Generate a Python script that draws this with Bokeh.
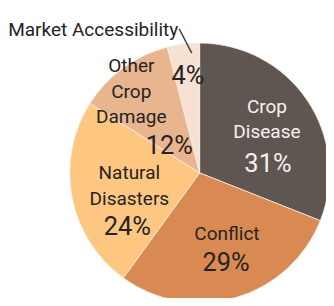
import math
from bokeh.plotting import figure
from bokeh.models import Range1d, ColumnDataSource
from bokeh.core.properties import value
from bokeh.embed import file_html
from bokeh.resources import INLINE

# ---- data ----
categories = ["Crop Disease", "Conflict", "Natural Disasters", "Other Crop Damage", "Market Accessibility"]
shares = [31, 29, 24, 12, 4]
label_lines = [["Crop", "Disease"], ["Conflict"], ["Natural", "Disasters"], ["Other", "Crop", "Damage"], []]
pct_labels = ["31%", "29%", "24%", "12%", "4%"]
colors = ["#5f5651", "#d98a52", "#fdc781", "#e8b58e", "#f6e1d2"]

# ---- layout: data space = reference picture pixels (334 x 306), y up ----
W, H = 326, 298
SX = W / 334.0
def Y(img_y):
    return 306 - img_y

p = figure(width=W, height=H, output_backend="svg", toolbar_location=None,
           x_range=Range1d(0, 334), y_range=Range1d(0, 306), min_border=0)
p.axis.visible = False
p.grid.visible = False
p.outline_line_color = None
p.background_fill_color = "white"

cx, cy, r = 204, Y(177), 133
total = sum(shares)
starts, ends = [], []
cum = 0.0
for s in shares:
    starts.append(math.pi / 2 - 2 * math.pi * cum / total)
    cum += s
    ends.append(math.pi / 2 - 2 * math.pi * cum / total)

src = ColumnDataSource(dict(cat=categories, start=starts, end=ends, color=colors))
p.wedge(x=cx, y=cy, radius=r, start_angle="start", end_angle="end", direction="clock",
        fill_color="color", line_color="#f4ece6", line_width=0.8, source=src)

FONT = value("Roboto")
name_size = "%.1fpx" % (19.5 * SX)
pct_size = "%.1fpx" % (26 * SX)
# label anchors: (center x, first baseline img y), pct (x, baseline)
name_pos = [(273, 109), (232, 239), (132, 177), (134, 67), None]
pct_pos = [(274, 167), (231, 269), (130, 232), (173, 148), (192, 77)]
txt_colors = ["#f4f2f0", "#262324", "#262324", "#262324", "#262324"]
line_h = 26

for i in range(len(categories)):
    if name_pos[i] is not None:
        x0, b0 = name_pos[i]
        for j, ln in enumerate(label_lines[i]):
            p.text(x=[x0], y=[Y(b0 + j * line_h)], text=[ln], text_font=FONT,
                   text_font_size=name_size, text_align="center", text_baseline="alphabetic",
                   text_color=txt_colors[i])
    px, pb = pct_pos[i]
    p.text(x=[px], y=[Y(pb)], text=[pct_labels[i]], text_font=FONT,
           text_font_size=pct_size, text_align="center", text_baseline="alphabetic",
           text_color=txt_colors[i])

# outside label for Market Accessibility
p.text(x=[95], y=[Y(30)], text=[categories[4]], text_font=FONT, text_font_size=name_size,
       text_align="center", text_baseline="alphabetic", text_color="#262324")
p.line(x=[183, 196], y=[Y(29), Y(54)], line_color="#444444", line_width=1.5)

open("out.html", "w").write(file_html(p, INLINE))
